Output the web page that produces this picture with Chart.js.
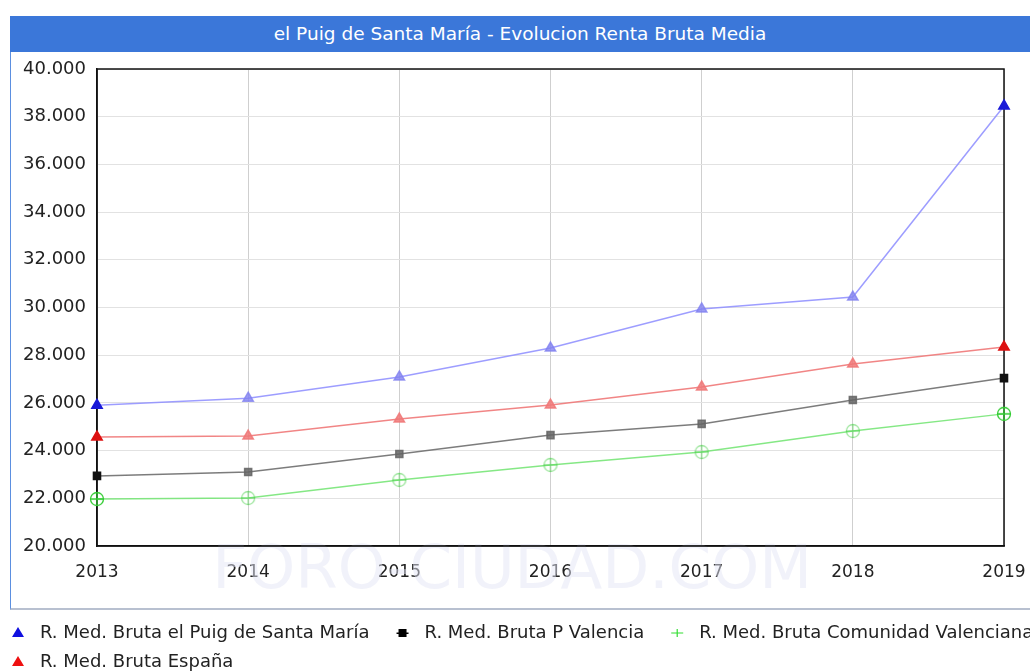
<!DOCTYPE html>
<html>
<head>
<meta charset="utf-8">
<script src="https://cdn.jsdelivr.net/npm/chart.js@4.4.1/dist/chart.umd.min.js"></script>
<style>
    body { margin: 0; background: #fff; width: 1030px; height: 671px; overflow: hidden; position: relative; font-family: "DejaVu Sans", sans-serif; }
    #titulo { position: absolute; left: 10px; top: 16px; width: 1020px; height: 36px; background: #3b77d9; color: #fff; font-size: 18.5px; line-height: 36px; text-align: center; }
    #marco { position: absolute; left: 10px; top: 52px; width: 1020px; height: 556px; border-left: 1px solid #5b8fe0; border-bottom: 2px solid #b8c0d0; }
    #myChart { position: absolute; left: 0; top: 0; }
</style>
</head>
<body>
<div id="titulo">el Puig de Santa María - Evolucion Renta Bruta Media</div>
<div id="marco"></div>
<canvas id="myChart" width="1030" height="671"></canvas>
<script>
var anios = ['2013', '2014', '2015', '2016', '2017', '2018', '2019'];
var rentaPuig = [25900, 26200, 27090, 28300, 29940, 30440, 38450];
var rentaProvincia = [22940, 23100, 23860, 24650, 25120, 26120, 27040];
var rentaComunidad = [21970, 22010, 22770, 23400, 23940, 24820, 25540];
var rentaEspana = [24570, 24610, 25320, 25910, 26670, 27630, 28340];
var ticksY = [20000, 22000, 24000, 26000, 28000, 30000, 32000, 34000, 36000, 38000, 40000];

// circulo con cruz para la serie verde
function circuloCruz(color) {
    var c = document.createElement('canvas');
    c.width = 16; c.height = 16;
    var g = c.getContext('2d');
    g.strokeStyle = color;
    g.lineWidth = 1.3;
    g.beginPath(); g.arc(8, 8, 6.5, 0, Math.PI * 2); g.stroke();
    g.beginPath(); g.moveTo(8, 1); g.lineTo(8, 15); g.moveTo(1, 8); g.lineTo(15, 8); g.stroke();
    return c;
}

function colorPunto(fuerte, suave) {
    return function (ctx) {
        var n = ctx.dataset.data.length;
        return (ctx.dataIndex === 0 || ctx.dataIndex === n - 1) ? fuerte : suave;
    };
}

var verdeFuerte = circuloCruz('#33cc33');
var verdeSuave = circuloCruz('rgba(80,210,80,0.55)');

var leyenda = {
    id: 'leyenda',
    afterDraw: function (chart) {
        var ctx = chart.ctx;
        var estilos = [
            { tipo: 'tri', color: '#1010e0' },
            { tipo: 'cuad', color: '#000' },
            { tipo: 'cruz', color: '#33dd33' },
            { tipo: 'tri', color: '#ee1010' }
        ];
        ctx.save();
        ctx.font = '18px "DejaVu Sans"';
        ctx.textBaseline = 'middle';
        var x = 10, y = 633;
        chart.data.datasets.forEach(function (ds, i) {
            if (x > 800) { x = 10; y += 29; }
            var e = estilos[i], mx = x + 8;
            ctx.fillStyle = e.color;
            ctx.strokeStyle = e.color;
            if (e.tipo === 'tri') {
                ctx.beginPath(); ctx.moveTo(mx, y - 6); ctx.lineTo(mx + 6, y + 4); ctx.lineTo(mx - 6, y + 4); ctx.closePath(); ctx.fill();
            } else if (e.tipo === 'cuad') {
                ctx.fillRect(mx - 4, y - 4, 8, 8);
                ctx.fillRect(mx - 6, y - 0.5, 12, 1.5);
            } else {
                ctx.lineWidth = 1.2;
                ctx.beginPath(); ctx.moveTo(mx - 6, y); ctx.lineTo(mx + 6, y); ctx.moveTo(mx, y - 4); ctx.lineTo(mx, y + 4); ctx.stroke();
            }
            ctx.fillStyle = '#222';
            ctx.fillText(ds.label, x + 30, y);
            x = x + 30 + ctx.measureText(ds.label).width + 25;
        });
        ctx.restore();
    }
};

var marcaAgua = {
    id: 'marcaAgua',
    beforeDatasetsDraw: function (chart) {
        var ctx = chart.ctx;
        ctx.save();
        ctx.font = '61px "DejaVu Sans"';
        ctx.fillStyle = 'rgba(228,230,245,0.5)';
        ctx.textAlign = 'center';
        ctx.textBaseline = 'middle';
        ctx.fillText('FORO-CIUDAD.COM', 512, 572);
        ctx.restore();
    }
};

window.onload = function () {
    var ctx = document.getElementById('myChart').getContext('2d');
    new Chart(ctx, {
        type: 'line',
        data: {
            labels: anios,
            datasets: [{
                label: 'R. Med. Bruta el Puig de Santa María',
                data: rentaPuig,
                borderColor: 'rgba(140,140,255,0.85)',
                borderWidth: 1.5,
                pointStyle: 'triangle',
                pointRadius: 6,
                pointBackgroundColor: colorPunto('#1a1ad8', 'rgba(130,130,240,0.8)'),
                pointBorderColor: colorPunto('#1a1ad8', 'rgba(130,130,240,0.8)'),
                fill: false,
                clip: false
            },
            {
                label: 'R. Med. Bruta P Valencia',
                data: rentaProvincia,
                borderColor: 'rgba(110,110,110,0.9)',
                borderWidth: 1.5,
                pointStyle: 'rect',
                pointRadius: 5,
                pointBackgroundColor: colorPunto('#111', 'rgba(100,100,100,0.85)'),
                pointBorderColor: colorPunto('#111', 'rgba(100,100,100,0.85)'),
                fill: false,
                clip: false
            },
            {
                label: 'R. Med. Bruta Comunidad Valenciana',
                data: rentaComunidad,
                borderColor: 'rgba(120,230,120,0.9)',
                borderWidth: 1.5,
                pointStyle: function (c) {
                    var n = c.dataset.data.length;
                    return (c.dataIndex === 0 || c.dataIndex === n - 1) ? verdeFuerte : verdeSuave;
                },
                pointRadius: 8,
                fill: false,
                clip: false
            },
            {
                label: 'R. Med. Bruta España',
                data: rentaEspana,
                borderColor: 'rgba(240,120,120,0.9)',
                borderWidth: 1.5,
                pointStyle: 'triangle',
                pointRadius: 6,
                pointBackgroundColor: colorPunto('#dd1111', 'rgba(240,120,120,0.85)'),
                pointBorderColor: colorPunto('#dd1111', 'rgba(240,120,120,0.85)'),
                fill: false,
                clip: false
            }]
        },
        options: {
            responsive: false,
            animation: false,
            layout: { padding: { left: 0, right: 26, top: 69, bottom: 85 } },
            plugins: {
                legend: { display: false },
                tooltip: { enabled: false }
            },
            scales: {
                x: {
                    offset: false,
                    afterFit: function (s) { s.height = 40; s.paddingLeft = 0; s.paddingRight = 0; },
                    grid: { color: '#cfcfcf', lineWidth: 1, drawTicks: false },
                    border: { color: '#111', width: 1.5 },
                    ticks: { color: '#222', font: { family: 'DejaVu Sans', size: 17 }, padding: 16, maxRotation: 0 }
                },
                y: {
                    min: 20000,
                    max: 40000,
                    afterFit: function (s) { s.width = 97; s.paddingTop = 0; s.paddingBottom = 0; },
                    afterBuildTicks: function (s) { s.ticks = ticksY.map(function (v) { return { value: v }; }); },
                    grid: { color: '#e2e2e2', lineWidth: 1, drawTicks: false },
                    border: { color: '#111', width: 1.5 },
                    ticks: {
                        color: '#222',
                        font: { family: 'DejaVu Sans', size: 18 },
                        padding: 11,
                        callback: function (v) { return v.toLocaleString('de-DE'); }
                    }
                }
            }
        },
        plugins: [marcaAgua, leyenda, {
            id: 'bordeArea',
            beforeDatasetsDraw: function (chart) {
                var a = chart.chartArea, c = chart.ctx;
                c.save();
                c.strokeStyle = '#111';
                c.lineWidth = 1.5;
                c.strokeRect(a.left, a.top, a.right - a.left, a.bottom - a.top);
                c.restore();
            }
        }]
    });
};
</script>
</body>
</html>
